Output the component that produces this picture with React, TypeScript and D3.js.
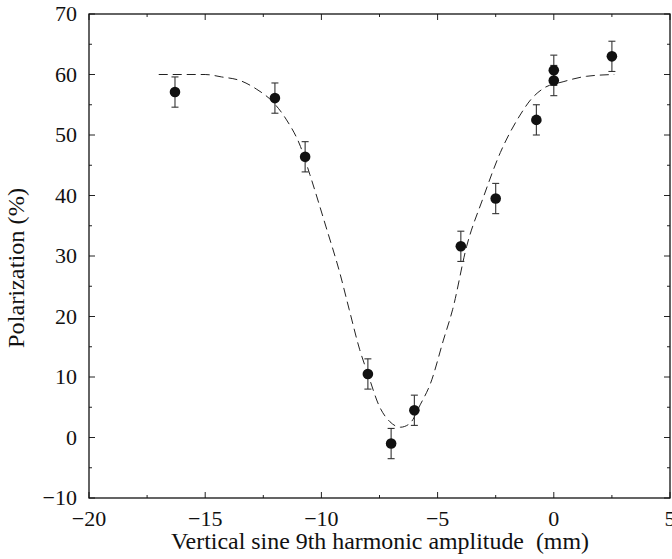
import React from "react";
import * as d3 from "d3";

const pointX = [-16.3, -12.0, -10.7, -8.0, -7.0, -6.0, -4.0, -2.5, -0.75, 0.0, 0.0, 2.5];
const pointY = [57.1, 56.1, 46.4, 10.5, -1.0, 4.5, 31.6, 39.5, 52.5, 60.7, 59.0, 63.0];
const pointErr = [2.5, 2.5, 2.5, 2.5, 2.5, 2.5, 2.5, 2.5, 2.5, 2.5, 2.5, 2.5];

const fitX = [-17, -15, -14.3, -13.5, -12.8, -12.1, -11.5, -10.9, -10.5, -9.8, -9.2, -8.8, -8.35, -8.0, -7.5, -7.05, -6.6, -6.2, -5.75, -5.3, -4.75, -4.35, -3.75, -3.05, -2.3, -1.45, -1.0, -0.45, 0.4, 1.4, 2.6];
const fitY = [60, 60, 59.6, 59.0, 57.6, 55.5, 52.5, 48.1, 43.5, 34.8, 27.1, 21.1, 14.5, 10.5, 5.1, 2.6, 1.7, 2.3, 5.4, 9.0, 16.1, 21.2, 31.6, 39.5, 47.1, 53.3, 55.8, 57.7, 58.8, 59.7, 60];

const xMajor = [-20, -15, -10, -5, 0, 5];
const xMinor = [-17.5, -12.5, -7.5, -2.5, 2.5];
const yMajor = [-10, 0, 10, 20, 30, 40, 50, 60, 70];
const yMinor = [-5, 5, 15, 25, 35, 45, 55, 65];

const xTitle = "Vertical sine 9th harmonic amplitude\u00a0\u00a0(mm)";
const yTitle = "Polarization (%)";

export default function App() {
  const W = 672, H = 559;
  const L = 89, R = 670, T = 14, B = 498;
  const x = d3.scaleLinear().domain([-20, 5]).range([L, R]);
  const y = d3.scaleLinear().domain([-10, 70]).range([B, T]);
  const fmt = (v: number) => (v < 0 ? "\u2212" + Math.abs(v) : String(v));
  const fitLine = d3
    .line<number>()
    .x((_, i) => x(fitX[i]))
    .y((v) => y(v))
    .curve(d3.curveMonotoneX)(fitY) as string;
  const font = "Liberation Serif, Times New Roman, serif";
  const maj = 6, mn = 3;
  return (
    <svg width={W} height={H} fontFamily={font} style={{ position: "absolute", left: 0, top: 0, background: "#fff" }}>
      <rect x={0} y={0} width={W} height={H} fill="#fff" />
      <g stroke="#222" strokeWidth={1}>
        {xMajor.map((v) => (
          <g key={"xm" + v}>
            <line x1={x(v)} x2={x(v)} y1={B} y2={B - maj} />
            <line x1={x(v)} x2={x(v)} y1={T} y2={T + maj} />
          </g>
        ))}
        {xMinor.map((v) => (
          <g key={"xn" + v}>
            <line x1={x(v)} x2={x(v)} y1={B} y2={B - mn} />
            <line x1={x(v)} x2={x(v)} y1={T} y2={T + mn} />
          </g>
        ))}
        {yMajor.map((v) => (
          <g key={"ym" + v}>
            <line x1={L} x2={L + maj} y1={y(v)} y2={y(v)} />
            <line x1={R} x2={R - maj} y1={y(v)} y2={y(v)} />
          </g>
        ))}
        {yMinor.map((v) => (
          <g key={"yn" + v}>
            <line x1={L} x2={L + mn} y1={y(v)} y2={y(v)} />
            <line x1={R} x2={R - mn} y1={y(v)} y2={y(v)} />
          </g>
        ))}
      </g>
      <rect x={L} y={T} width={R - L} height={B - T} fill="none" stroke="#111" strokeWidth={1.3} />
      {xMajor.map((v) => (
        <text key={"xl" + v} x={x(v)} y={526} textAnchor="middle" fontSize={22} fill="#111" fontFamily={font}>
          {fmt(v)}
        </text>
      ))}
      {yMajor.map((v) => (
        <text key={"yl" + v} x={77} y={y(v) + 7} textAnchor="end" fontSize={22} fill="#111" fontFamily={font}>
          {fmt(v)}
        </text>
      ))}
      <text x={380} y={549} textAnchor="middle" fontSize={23} fill="#111" fontFamily={font} textLength={418} lengthAdjust="spacingAndGlyphs">
        {xTitle}
      </text>
      <text transform={`translate(24, 268) rotate(-90)`} textAnchor="middle" fontSize={23} fill="#111" fontFamily={font} textLength={160} lengthAdjust="spacingAndGlyphs">
        {yTitle}
      </text>
      <path d={fitLine} fill="none" stroke="#222" strokeWidth={1} strokeDasharray="9,5" />
      <g stroke="#333" strokeWidth={1.1}>
        {pointX.map((v, i) => (
          <g key={"e" + i}>
            <line x1={x(v)} x2={x(v)} y1={y(pointY[i] - pointErr[i])} y2={y(pointY[i] + pointErr[i])} />
            <line x1={x(v) - 3.5} x2={x(v) + 3.5} y1={y(pointY[i] - pointErr[i])} y2={y(pointY[i] - pointErr[i])} />
            <line x1={x(v) - 3.5} x2={x(v) + 3.5} y1={y(pointY[i] + pointErr[i])} y2={y(pointY[i] + pointErr[i])} />
          </g>
        ))}
      </g>
      {pointX.map((v, i) => (
        <circle key={"p" + i} cx={x(v)} cy={y(pointY[i])} r={5.3} fill="#111" />
      ))}
    </svg>
  );
}
